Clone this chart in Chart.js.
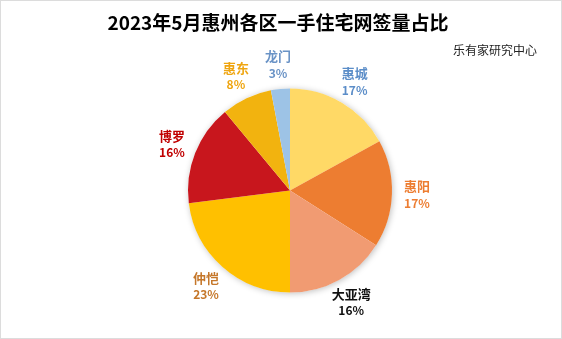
<!DOCTYPE html>
<html>
<head>
<meta charset="utf-8">
<script src="https://cdn.jsdelivr.net/npm/chart.js@4/dist/chart.umd.min.js"></script>
<style>
  html, body { margin: 0; padding: 0; background: #fff; }
  #wrap { position: relative; width: 560px; height: 337px; border: 1px solid #dcdcdc; }
  canvas { display: block; }
</style>
</head>
<body>
<div id="wrap"><canvas id="c" width="560" height="337"></canvas></div>
<script>
// 2023年5月惠州各区一手住宅网签量占比 (%)
const districts = ['惠城', '惠阳', '大亚湾', '仲恺', '博罗', '惠东', '龙门'];
const shares = [17, 17, 16, 23, 16, 8, 3];
const sliceColors = ['#FFD966', '#ED7D31', '#F19B72', '#FFC000', '#C8161D', '#F2B30F', '#9DC3E6'];
const labelColors = ['#5B8DC8', '#ED7D31', '#111111', '#C5772A', '#C00000', '#EFA510', '#6A93C6'];

const titleText = '2023年5月惠州各区一手住宅网签量占比';
const sourceText = '乐有家研究中心';
const CJK = '"Noto Sans CJK SC", "Noto Sans", sans-serif';

const headerPlugin = {
  id: 'header',
  afterDraw(chart) {
    const ctx = chart.ctx;
    ctx.save();
    ctx.fillStyle = '#000';
    ctx.font = 'bold 19px ' + CJK;
    ctx.textAlign = 'center';
    ctx.textBaseline = 'middle';
    ctx.fillText(titleText, 277, 22);
    ctx.font = '12px ' + CJK;
    ctx.fillStyle = '#222';
    ctx.textAlign = 'left';
    ctx.fillText(sourceText, 452, 49);
    ctx.restore();
  }
};

const shadowPlugin = {
  id: 'pieShadow',
  beforeDatasetsDraw(chart) {
    const arc = chart.getDatasetMeta(0).data[0];
    if (!arc) return;
    const ctx = chart.ctx;
    ctx.save();
    ctx.shadowColor = 'rgba(0,0,0,0.25)';
    ctx.shadowBlur = 6;
    ctx.shadowOffsetX = 1;
    ctx.shadowOffsetY = 1;
    ctx.fillStyle = '#fff';
    ctx.beginPath();
    ctx.arc(arc.x, arc.y, arc.outerRadius, 0, Math.PI * 2);
    ctx.fill();
    ctx.restore();
  }
};

const outerLabels = {
  id: 'outerLabels',
  afterDatasetsDraw(chart) {
    const ctx = chart.ctx;
    const meta = chart.getDatasetMeta(0);
    ctx.save();
    ctx.textAlign = 'center';
    ctx.textBaseline = 'middle';
    meta.data.forEach((arc, i) => {
      const mid = (arc.startAngle + arc.endAngle) / 2;
      const r = arc.outerRadius + 25;
      const x = arc.x + Math.cos(mid) * r;
      const y = arc.y + Math.sin(mid) * r;
      ctx.fillStyle = labelColors[i];
      ctx.font = 'bold 13px ' + CJK;
      ctx.fillText(districts[i], x, y - 8);
      ctx.font = 'bold 12px ' + CJK;
      ctx.fillText(shares[i] + '%', x, y + 9);
    });
    ctx.restore();
  }
};

new Chart(document.getElementById('c'), {
  type: 'pie',
  data: {
    labels: districts,
    datasets: [{
      data: shares,
      backgroundColor: sliceColors,
      borderWidth: 0
    }]
  },
  options: {
    responsive: false,
    animation: false,
    layout: { padding: { top: 87, bottom: 45, left: 187, right: 169 } },
    plugins: {
      legend: { display: false },
      tooltip: { enabled: false },
      title: { display: false }
    }
  },
  plugins: [shadowPlugin, outerLabels, headerPlugin]
});
</script>
</body>
</html>
